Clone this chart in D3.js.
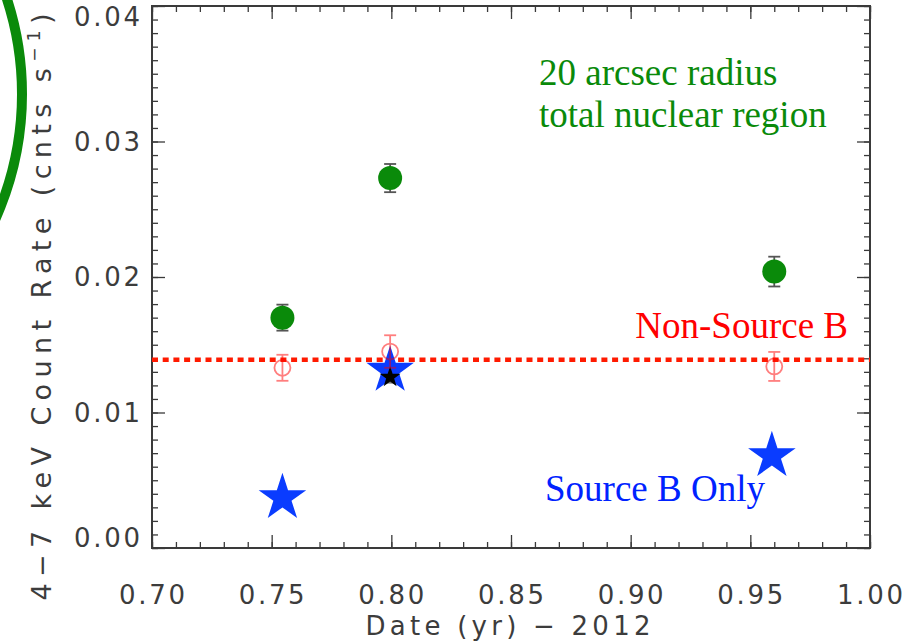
<!DOCTYPE html>
<html>
<head>
<meta charset="utf-8">
<script src="https://cdn.jsdelivr.net/npm/d3@7"></script>
<style>
  html, body { margin: 0; padding: 0; background: #fff; }
  svg { display: block; }
</style>
</head>
<body>
<svg id="chart" width="908" height="642"></svg>
<script>
// ---- data ----
const xTicks = [0.70, 0.75, 0.80, 0.85, 0.90, 0.95, 1.00];
const xTickLabels = ["0.70", "0.75", "0.80", "0.85", "0.90", "0.95", "1.00"];
const yTicks = [0.00, 0.01, 0.02, 0.03, 0.04];
const yTickLabels = ["0.00", "0.01", "0.02", "0.03", "0.04"];

// 20 arcsec total nuclear region (green filled circles)
const totalDates = [0.7545, 0.7995, 0.960];
const totalRates = [0.0170, 0.0273, 0.0204];
const totalErrs  = [0.00096, 0.00104, 0.00110];

// Non-Source B (red open circles)
const nonSrcDates = [0.7545, 0.7995, 0.960];
const nonSrcRates = [0.0133, 0.0145, 0.0134];
const nonSrcErrs  = [0.00096, 0.00120, 0.00107];
const nonSrcMean = 0.0139;

// Source B only (blue stars)
const srcBDates = [0.7545, 0.7995, 0.959];
const srcBRates = [0.0037, 0.0131, 0.0068];

// small black star inside 2nd blue star
const blackDates = [0.7995];
const blackRates = [0.0126];
const blackErrs  = [0.0004];

// ---- layout ----
const svg = d3.select("#chart");
const L = 152, R = 870, T = 6, B = 548;
const x = d3.scaleLinear().domain([0.70, 1.00]).range([L, R]);
const y = d3.scaleLinear().domain([0.00, 0.04]).range([B, T]);

const axisColor = "#3a3a3a";
const labelFont = "'DejaVu Sans', 'Liberation Sans', sans-serif";
const labelColor = "#3c3c3c";

// green ring decoration at top-left
svg.append("circle")
  .attr("cx", -285).attr("cy", 94).attr("r", 307)
  .attr("fill", "none").attr("stroke", "#0a8a0a").attr("stroke-width", 10);

// ---- ticks (inward, all four sides) ----
const xMinor = d3.range(70, 101, 1).map(d => d / 100);
const yMinor = d3.range(0, 41, 1).map(d => d / 1000);

function styleAxis(g) {
  g.select(".domain").remove();
  g.selectAll("line").attr("stroke", axisColor).attr("stroke-width", 1.3);
  g.selectAll("text").remove();
}
svg.append("g").attr("transform", `translate(0,${B})`)
  .call(d3.axisBottom(x).tickValues(xMinor).tickSize(-6)).call(styleAxis);
svg.append("g").attr("transform", `translate(0,${B})`)
  .call(d3.axisBottom(x).tickValues(xTicks).tickSize(-13)).call(styleAxis);
svg.append("g").attr("transform", `translate(0,${T})`)
  .call(d3.axisTop(x).tickValues(xMinor).tickSize(-6)).call(styleAxis);
svg.append("g").attr("transform", `translate(0,${T})`)
  .call(d3.axisTop(x).tickValues(xTicks).tickSize(-13)).call(styleAxis);
svg.append("g").attr("transform", `translate(${L},0)`)
  .call(d3.axisLeft(y).tickValues(yMinor).tickSize(-6)).call(styleAxis);
svg.append("g").attr("transform", `translate(${L},0)`)
  .call(d3.axisLeft(y).tickValues(yTicks).tickSize(-13)).call(styleAxis);
svg.append("g").attr("transform", `translate(${R},0)`)
  .call(d3.axisRight(y).tickValues(yMinor).tickSize(-6)).call(styleAxis);
svg.append("g").attr("transform", `translate(${R},0)`)
  .call(d3.axisRight(y).tickValues(yTicks).tickSize(-13)).call(styleAxis);

// frame
svg.append("rect").attr("x", L).attr("y", T).attr("width", R - L).attr("height", B - T)
  .attr("fill", "none").attr("stroke", axisColor).attr("stroke-width", 2);

// tick labels
svg.append("g").selectAll("text").data(xTicks).join("text")
  .attr("x", d => x(d)).attr("y", 604)
  .attr("text-anchor", "middle")
  .attr("font-family", labelFont).attr("font-size", 26).attr("fill", labelColor)
  .attr("textLength", 66).attr("lengthAdjust", "spacing")
  .text((d, i) => xTickLabels[i]);

svg.append("g").selectAll("text").data(yTicks).join("text")
  .attr("x", 140)
  .attr("y", d => Math.min(Math.max(y(d), 17), 538))
  .attr("dy", "0.36em")
  .attr("text-anchor", "end")
  .attr("font-family", labelFont).attr("font-size", 26).attr("fill", labelColor)
  .attr("textLength", 66).attr("lengthAdjust", "spacing")
  .text((d, i) => yTickLabels[i]);

// axis titles
svg.append("text")
  .attr("x", 508).attr("y", 635)
  .attr("text-anchor", "middle")
  .attr("font-family", labelFont).attr("font-size", 26).attr("fill", labelColor)
  .attr("textLength", 285).attr("lengthAdjust", "spacing")
  .text("Date (yr) \u2212 2012");

const yt = svg.append("text")
  .attr("transform", "translate(51,307) rotate(-90)")
  .attr("text-anchor", "middle")
  .attr("font-family", labelFont).attr("font-size", 27).attr("fill", labelColor)
  .attr("textLength", 587).attr("lengthAdjust", "spacing");
yt.append("tspan").text("4\u22127 keV Count Rate (cnts s");
yt.append("tspan").attr("font-size", 17).attr("dy", -11).text("\u22121");
yt.append("tspan").attr("dy", 11).text(")");

// ---- Non-Source B mean (red dotted line) ----
svg.append("line")
  .attr("x1", x(0.70)).attr("x2", x(1.00))
  .attr("y1", y(nonSrcMean)).attr("y2", y(nonSrcMean))
  .attr("stroke", "#ff1a00").attr("stroke-width", 4.5)
  .attr("stroke-dasharray", "6,4.7");

// ---- green points with error bars ----
const errG = svg.append("g");
totalDates.forEach((d, i) => {
  const cx = x(d), y1 = y(totalRates[i] + totalErrs[i]), y0 = y(totalRates[i] - totalErrs[i]);
  errG.append("line").attr("x1", cx).attr("x2", cx).attr("y1", y1).attr("y2", y0)
    .attr("stroke", "#555").attr("stroke-width", 1.8);
  [y1, y0].forEach(yy => errG.append("line").attr("x1", cx - 6).attr("x2", cx + 6)
    .attr("y1", yy).attr("y2", yy).attr("stroke", "#555").attr("stroke-width", 1.8));
});
svg.append("g").selectAll("circle").data(totalDates).join("circle")
  .attr("cx", d => x(d)).attr("cy", (d, i) => y(totalRates[i]))
  .attr("r", 12).attr("fill", "#0a8a0a");

// ---- blue stars ----
const bigStar = d3.symbol().type(d3.symbolStar).size(25 * 25 / 0.8908130915292852);
svg.append("g").selectAll("path").data(srcBDates).join("path")
  .attr("transform", (d, i) => `translate(${x(d)},${y(srcBRates[i])})`)
  .attr("d", bigStar).attr("fill", "#0a3cff");

// black star with small error bar
blackDates.forEach((d, i) => {
  const cx = x(d);
  svg.append("line").attr("x1", cx).attr("x2", cx)
    .attr("y1", y(blackRates[i] + blackErrs[i])).attr("y2", y(blackRates[i] - blackErrs[i]))
    .attr("stroke", "#777").attr("stroke-width", 1.8);
  svg.append("line").attr("x1", cx - 5).attr("x2", cx + 5)
    .attr("y1", y(blackRates[i] - blackErrs[i])).attr("y2", y(blackRates[i] - blackErrs[i]))
    .attr("stroke", "#777").attr("stroke-width", 1.8);
});
const smallStar = d3.symbol().type(d3.symbolStar).size(11 * 11 / 0.8908130915292852);
svg.append("g").selectAll("path").data(blackDates).join("path")
  .attr("transform", (d, i) => `translate(${x(d)},${y(blackRates[i])})`)
  .attr("d", smallStar).attr("fill", "#000");

// ---- red open circles with error bars ----
const redG = svg.append("g").attr("opacity", 0.5);
nonSrcDates.forEach((d, i) => {
  const cx = x(d), y1 = y(nonSrcRates[i] + nonSrcErrs[i]), y0 = y(nonSrcRates[i] - nonSrcErrs[i]);
  redG.append("line").attr("x1", cx).attr("x2", cx).attr("y1", y1).attr("y2", y0)
    .attr("stroke", "#ff0000").attr("stroke-width", 1.8);
  [y1, y0].forEach(yy => redG.append("line").attr("x1", cx - 6).attr("x2", cx + 6)
    .attr("y1", yy).attr("y2", yy).attr("stroke", "#ff0000").attr("stroke-width", 1.8));
  redG.append("circle").attr("cx", cx).attr("cy", y(nonSrcRates[i])).attr("r", 8)
    .attr("fill", "none").attr("stroke", "#ff0000").attr("stroke-width", 1.8);
});

// ---- annotations ----
const serif = "'Liberation Serif', 'Times New Roman', serif";
svg.append("text").attr("x", 539).attr("y", 85)
  .attr("font-family", serif).attr("font-size", 37).attr("fill", "#0a8a0a")
  .text("20 arcsec radius");
svg.append("text").attr("x", 539).attr("y", 127)
  .attr("font-family", serif).attr("font-size", 37).attr("fill", "#0a8a0a")
  .text("total nuclear region");
svg.append("text").attr("x", 848).attr("y", 338).attr("text-anchor", "end")
  .attr("font-family", serif).attr("font-size", 37).attr("fill", "#ff0000")
  .text("Non-Source B");
svg.append("text").attr("x", 545).attr("y", 501)
  .attr("font-family", serif).attr("font-size", 37).attr("fill", "#0022ff")
  .text("Source B Only");
</script>
</body>
</html>
